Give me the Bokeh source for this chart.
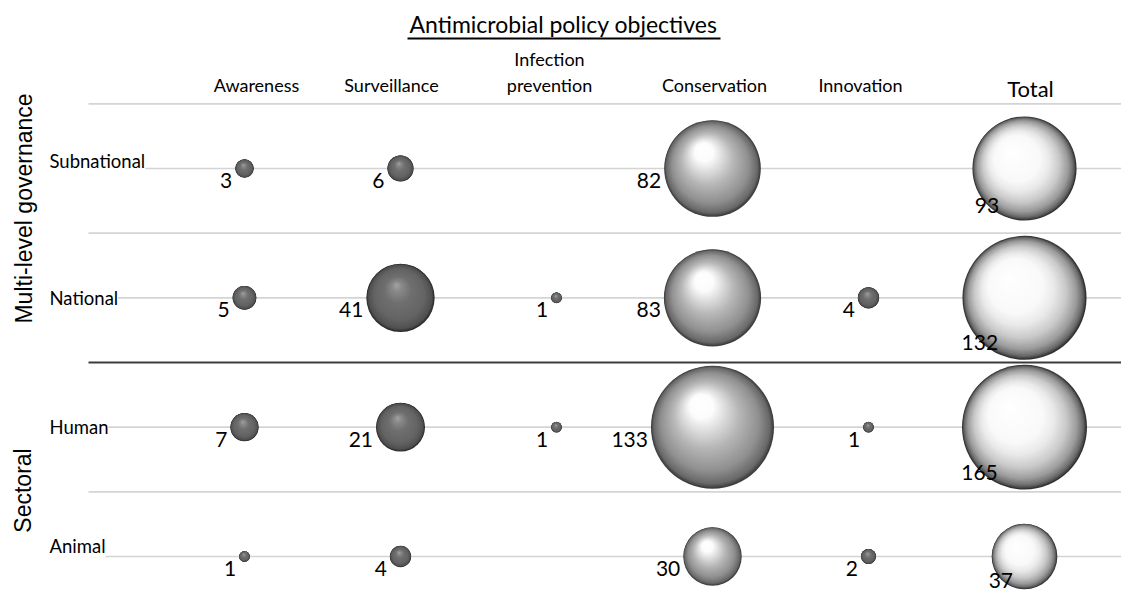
import math
from bokeh.plotting import figure
from bokeh.models import Range1d, Label
from bokeh.core.properties import value
from bokeh.embed import file_html
from bokeh.resources import INLINE

# ---------------- data ----------------
title = "Antimicrobial policy objectives"
rows = ["Subnational", "National", "Human", "Animal"]
groups = ["Multi-level governance", "Sectoral"]
objectives = ["Awareness", "Surveillance", "Infection prevention", "Conservation", "Innovation", "Total"]
awareness = [3, 5, 7, 1]
surveillance = [6, 41, 21, 4]
infection_prevention = [None, 1, 1, None]
conservation = [82, 83, 133, 30]
innovation = [None, 4, 1, 2]
total = [93, 132, 165, 37]
series = [awareness, surveillance, infection_prevention, conservation, innovation, total]

# ---------------- geometry ----------------
W, H = 1121, 603
PXX = 156.0     # px per column
PXY = 129.33    # px per row
X0 = -244 / PXX
YT = -168 / PXY
X1 = X0 + W / PXX
YB = YT + H / PXY

def fx(px):
    return X0 + px / PXX

def fy(py):
    return YT + py / PXY

p = figure(width=W, height=H, output_backend="svg", toolbar_location=None,
           x_range=Range1d(X0, X1), y_range=Range1d(YB, YT), min_border=0)
p.axis.visible = False
p.grid.visible = False
p.outline_line_color = None
p.background_fill_color = "white"
p.border_fill_color = "white"

FONT = value("Lato")

# ---------------- lines ----------------
line_x0 = fx(88)
line_x1 = X1 + 1
row_idx = list(range(len(rows)))
p.segment(x0=[line_x0] * 4, x1=[line_x1] * 4, y0=row_idx, y1=row_idx,
          line_color="#d4d4d4", line_width=1.6)
seps = [-0.5, 0.5, 2.5]
p.segment(x0=[line_x0] * 3, x1=[line_x1] * 3, y0=seps, y1=seps,
          line_color="#d4d4d4", line_width=1.6)
p.segment(x0=[line_x0], x1=[line_x1], y0=[1.5], y1=[1.5],
          line_color="#3c3c3c", line_width=1.8)

# ---------------- spheres ----------------
STYLES = {
    "dark": dict(h=(-0.12, -0.38),
                 stops=[(0, 42), (0.06, 80), (0.25, 100), (0.6, 112), (0.85, 138), (1, 165)]),
    "light": dict(h=(-0.22, -0.42),
                  stops=[(0, 62), (0.05, 105), (0.2, 145), (0.45, 182), (0.68, 228), (0.8, 252), (1, 255)]),
    "white": dict(h=(-0.26, -0.34),
                  stops=[(0, 50), (0.04, 105), (0.12, 155), (0.25, 200), (0.4, 232), (0.55, 249), (1, 255)]),
}
col_style = ["dark", "dark", "dark", "light", "dark", "white"]

def gray(t, stops):
    for (t0, g0), (t1, g1) in zip(stops[:-1], stops[1:]):
        if t <= t1:
            g = g0 + (g1 - g0) * (t - t0) / (t1 - t0)
            g = int(round(g))
            return "#%02x%02x%02x" % (g, g, g)
    g = stops[-1][1]
    return "#%02x%02x%02x" % (g, g, g)

def diameter(v, col):
    if col == len(objectives) - 1:
        return min(10.8 * math.sqrt(v), 125)
    return 10.67 * math.sqrt(v)

N = 60
sx, sy, ss, sc = [], [], [], []
lx, ly, lt, la = [], [], [], []
for ci, vals in enumerate(series):
    st = STYLES[col_style[ci]]
    for ri, v in enumerate(vals):
        if not v:
            continue
        d = diameter(v, ci)
        r = d / 2
        for k in range(N):
            t = k / N
            rk = r * (1 - t)
            ox = st["h"][0] * r * t
            oy = st["h"][1] * r * t
            sx.append(ci + ox / PXX)
            sy.append(ri + oy / PXY)
            ss.append(2 * rk)
            sc.append(gray(t, st["stops"]))
        # value label
        if ci == len(objectives) - 1:
            lx.append(ci - 0.72 * r / PXX)
            ly.append(ri + 0.72 * r / PXY)
            la.append("center")
        else:
            lx.append(ci - (r + 3) / PXX)
            ly.append(ri + 12 / PXY)
            la.append("right")
        lt.append(str(v))

p.scatter(x=sx, y=sy, size=ss, fill_color=sc, line_color=None, marker="circle")

p.text(x=lx, y=ly, text=lt, text_align=la, text_baseline="middle",
       text_font=FONT, text_font_size="21px", text_color="#000000")

# ---------------- headers ----------------
header_dx = [12, -9, -7, 2, -8, 6]
for ci, name in enumerate(objectives):
    xx = ci + header_dx[ci] / PXX
    if name == "Infection prevention":
        a, b = name.split(" ")
        p.add_layout(Label(x=xx, y=fy(58), text=a, text_align="center", text_baseline="middle",
                           text_font="Lato", text_font_size="18px", text_color="#000000"))
        p.add_layout(Label(x=xx, y=fy(84), text=b, text_align="center", text_baseline="middle",
                           text_font="Lato", text_font_size="18px", text_color="#000000"))
    elif name == "Total":
        p.add_layout(Label(x=xx, y=fy(88), text=name, text_align="center", text_baseline="middle",
                           text_font="Lato", text_font_size="22px", text_color="#000000"))
    else:
        p.add_layout(Label(x=xx, y=fy(84), text=name, text_align="center", text_baseline="middle",
                           text_font="Lato", text_font_size="18px", text_color="#000000"))

# title with underline
p.add_layout(Label(x=fx(563), y=fy(23), text=title, text_align="center", text_baseline="middle",
                   text_font="Lato", text_font_size="23px", text_color="#000000"))
p.segment(x0=[fx(407)], x1=[fx(720)], y0=[fy(38)], y1=[fy(38)], line_color="#000000", line_width=2)

# ---------------- row labels ----------------
row_dy = [-8, 0, 0, -10]
for ri, name in enumerate(rows):
    p.add_layout(Label(x=fx(49), y=ri + row_dy[ri] / PXY, text=name, text_align="left",
                       text_baseline="middle", text_font="Lato", text_font_size="18.5px",
                       text_color="#000000", background_fill_color="white"))

# ---------------- group labels ----------------
group_pos = [(fx(23), fy(208)), (fx(22), fy(490))]
for (gx, gy), name in zip(group_pos, groups):
    p.add_layout(Label(x=gx, y=gy, text=name, angle=math.pi / 2, text_align="center",
                       text_baseline="middle", text_font="Liberation Sans", text_font_size="23px",
                       text_color="#000000"))

open("out.html", "w").write(file_html(p, INLINE))
